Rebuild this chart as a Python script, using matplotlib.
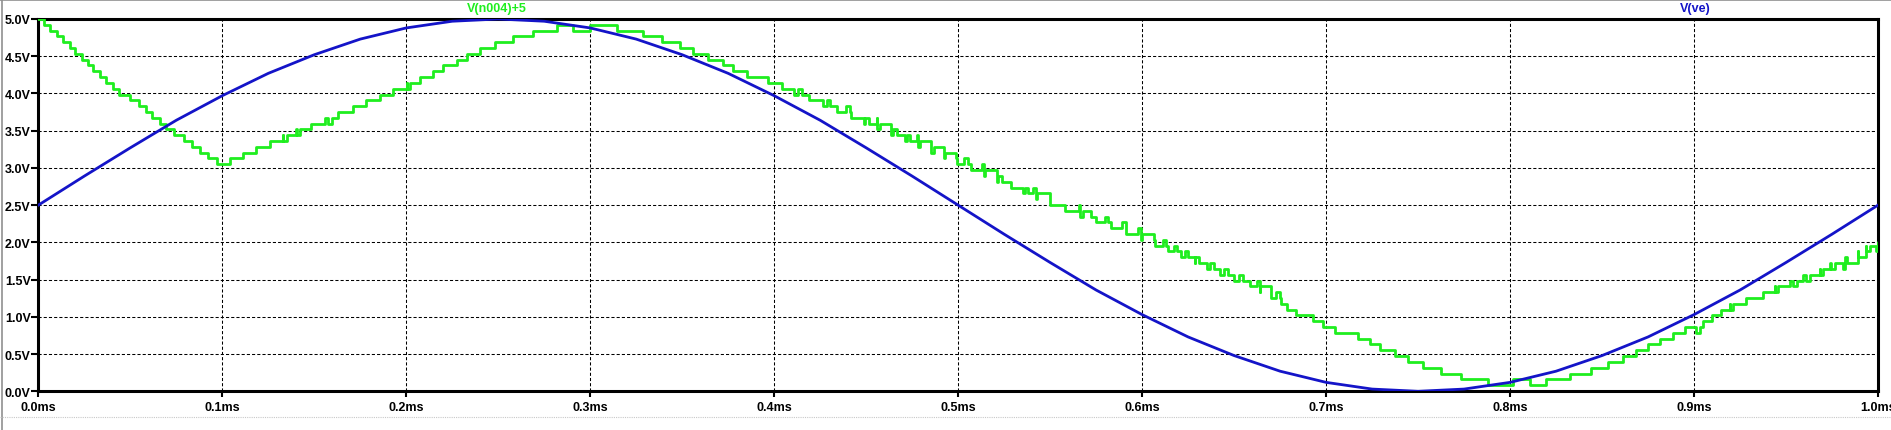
import numpy as np
import matplotlib
matplotlib.use("Agg")
import matplotlib.pyplot as plt
from matplotlib.lines import Line2D

# V(n004)+5 : staircase, step start times (ms) and levels (V)
green_t = [0.0, 0.0030, 0.0065, 0.0100, 0.0135, 0.0170, 0.0200, 0.0235, 0.0270, 0.0300,
           0.0335, 0.0370, 0.0405, 0.0440, 0.0500, 0.0550, 0.0585, 0.0620, 0.0660, 0.0695,
           0.0740, 0.0790, 0.0835, 0.0880, 0.0925, 0.0970,
           0.1040, 0.1110, 0.1185, 0.1260, 0.1330, 0.1400, 0.1480, 0.1560, 0.1630, 0.1710,
           0.1780, 0.1860, 0.1930, 0.2002, 0.2074, 0.2147, 0.2201, 0.2274, 0.2328, 0.2401,
           0.2482, 0.2582, 0.2690, 0.2817,
           0.2908, 0.2998, 0.3143, 0.3288, 0.3388, 0.3488, 0.3560, 0.3641, 0.3723, 0.3777,
           0.3850, 0.3967,
           0.4040, 0.4110, 0.4190, 0.4265, 0.4340, 0.4415, 0.4490, 0.4560, 0.4635, 0.4710,
           0.4780, 0.4855, 0.4925, 0.4995, 0.5070, 0.5140, 0.5210, 0.5285, 0.5355, 0.5425,
           0.5500, 0.5580, 0.5665, 0.5750, 0.5830, 0.5915, 0.5995, 0.6070, 0.6140, 0.6210,
           0.6285, 0.6355, 0.6425, 0.6500, 0.6585, 0.6640, 0.6700, 0.6755, 0.6790, 0.6839,
           0.6929, 0.6984, 0.7047, 0.7174, 0.7238, 0.7292, 0.7373, 0.7446, 0.7527, 0.7627,
           0.7736, 0.7880, 0.8016, 0.8107, 0.8198, 0.8324, 0.8442, 0.8533, 0.8614, 0.8687,
           0.8750, 0.8814, 0.8886, 0.8950,
           0.9049, 0.9095, 0.9149, 0.9194, 0.9285, 0.9375, 0.9439, 0.9520, 0.9592, 0.9683,
           0.9738, 0.9819, 0.9891, 0.9937, 1.0]
green_v = [5.00, 4.92, 4.84, 4.77, 4.69, 4.61, 4.53, 4.45, 4.38, 4.30,
           4.22, 4.14, 4.06, 3.98, 3.91, 3.83, 3.75, 3.67, 3.59, 3.52,
           3.44, 3.36, 3.28, 3.20, 3.13, 3.05,
           3.13, 3.20, 3.28, 3.36, 3.44, 3.52, 3.59, 3.67, 3.75, 3.83,
           3.91, 3.98, 4.06, 4.14, 4.22, 4.30, 4.38, 4.45, 4.53, 4.61,
           4.69, 4.77, 4.84, 4.92,
           4.84, 4.92, 4.84, 4.77, 4.69, 4.61, 4.53, 4.45, 4.38, 4.30,
           4.22, 4.14,
           4.06, 3.98, 3.91, 3.83, 3.75, 3.67, 3.59, 3.52, 3.44, 3.36,
           3.28, 3.20, 3.13, 3.05, 2.97, 2.89, 2.81, 2.73, 2.66, 2.58,
           2.50, 2.42, 2.34, 2.27, 2.19, 2.11, 2.03, 1.95, 1.88, 1.80,
           1.72, 1.64, 1.56, 1.48, 1.41, 1.33, 1.25, 1.17, 1.09, 1.02,
           0.94, 0.86, 0.78, 0.70, 0.63, 0.55, 0.47, 0.39, 0.31, 0.23,
           0.16, 0.08, 0.16, 0.08, 0.16, 0.23, 0.31, 0.39, 0.47, 0.55,
           0.63, 0.70, 0.78, 0.86,
           0.94, 1.02, 1.09, 1.17, 1.25, 1.33, 1.41, 1.48, 1.56, 1.64,
           1.72, 1.80, 1.88, 1.95, 2.00]

# short back-and-forth toggles seen as blobs on the staircase
dither_t = [0.1332, 0.1404, 0.1576, 0.2002, 0.4132, 0.4285, 0.4393, 0.4493, 0.4557, 0.4647,
            0.4720, 0.4774, 0.4847, 0.4910, 0.4968, 0.5033, 0.5127, 0.5217, 0.5362, 0.5408,
            0.5658, 0.5701, 0.5797, 0.5893, 0.5978, 0.6046, 0.6111, 0.6172, 0.6232, 0.6290,
            0.6368, 0.6446, 0.6527, 0.6622, 0.6727, 0.9013, 0.9194, 0.9439, 0.9538, 0.9611,
            0.9683, 0.9747, 0.9810, 0.9874, 0.9937, 0.9991]

# V(ve) read every 0.025 ms
blue_v = [2.50, 2.89, 3.27, 3.64, 3.97, 4.27, 4.52, 4.73, 4.88, 4.97,
          5.00, 4.97, 4.88, 4.73, 4.52, 4.27, 3.97, 3.64, 3.27, 2.89,
          2.50, 2.11, 1.73, 1.36, 1.03, 0.73, 0.48, 0.27, 0.12, 0.03,
          0.00, 0.03, 0.12, 0.27, 0.48, 0.73, 1.03, 1.36, 1.73, 2.11, 2.50]
blue_t = np.linspace(0, 1.0, len(blue_v))

x_ticks = [0.0, 0.1, 0.2, 0.3, 0.4, 0.5, 0.6, 0.7, 0.8, 0.9, 1.0]
x_labels = ['0.0ms', '0.1ms', '0.2ms', '0.3ms', '0.4ms', '0.5ms', '0.6ms', '0.7ms', '0.8ms', '0.9ms', '1.0ms']
y_ticks = [0.0, 0.5, 1.0, 1.5, 2.0, 2.5, 3.0, 3.5, 4.0, 4.5, 5.0]
y_labels = ['0.0V', '0.5V', '1.0V', '1.5V', '2.0V', '2.5V', '3.0V', '3.5V', '4.0V', '4.5V', '5.0V']

GREEN = '#1fee1f'
BLUE = '#1414c8'

plt.rcParams['font.family'] = ['Liberation Sans', 'DejaVu Sans']

# merge staircase with dither toggles
pts = [(t, 0, v) for t, v in zip(green_t, green_v)]
for tb in dither_t:
    i = np.searchsorted(green_t, tb, side='right') - 1
    pts.append((tb, 1, green_v[max(i - 1, 0)]))
    pts.append((tb + 0.002, 2, green_v[i]))
pts.sort()
gx = [p[0] for p in pts]
gy = [p[2] for p in pts]

fig = plt.figure(figsize=(18.91, 4.31), dpi=100)
ax = fig.add_axes([38.3 / 1891, 1 - 392.3 / 431, (1878 - 38.3) / 1891, (392.3 - 20) / 431])

ax.plot(gx, gy, color=GREEN, lw=2.0, drawstyle='steps-post', zorder=3)
ax.plot(blue_t, blue_v, color=BLUE, lw=2.0, zorder=4)

ax.set_xlim(0, 1.0)
ax.set_ylim(0, 5.0)
ax.set_xticks(x_ticks)
ax.set_xticklabels(x_labels)
ax.set_yticks(y_ticks)
ax.set_yticklabels(y_labels)
ax.tick_params(axis='x', direction='out', length=4.5, width=1.5, pad=2.5, labelsize=9)
ax.tick_params(axis='y', direction='out', length=5, width=1.5, pad=0.5, labelsize=9)
for lab in ax.get_xticklabels() + ax.get_yticklabels():
    lab.set_fontweight('bold')

ax.grid(True, color='black', lw=0.75, linestyle=(0, (3, 2)))
for s in ax.spines.values():
    s.set_linewidth(2.2)

fig.text(497 / 1891, 1 - 9 / 431, 'V(n004)+5', color=GREEN, fontsize=9, fontweight='bold',
         ha='center', va='center')
fig.text(1695 / 1891, 1 - 9 / 431, 'V(ve)', color=BLUE, fontsize=9, fontweight='bold',
         ha='center', va='center')

# window frame lines
fig.add_artist(Line2D([0, 1], [1 - 1 / 431, 1 - 1 / 431], color='#909090', lw=1.2, transform=fig.transFigure))
fig.add_artist(Line2D([1.5 / 1891, 1.5 / 1891], [0, 1], color='#909090', lw=1.2, transform=fig.transFigure))
fig.add_artist(Line2D([0, 1], [1 - 418 / 431, 1 - 418 / 431], color='#c8c8c8', lw=0.8,
                      linestyle=(0, (1, 1)), transform=fig.transFigure))

fig.savefig('out.png', dpi=100)
